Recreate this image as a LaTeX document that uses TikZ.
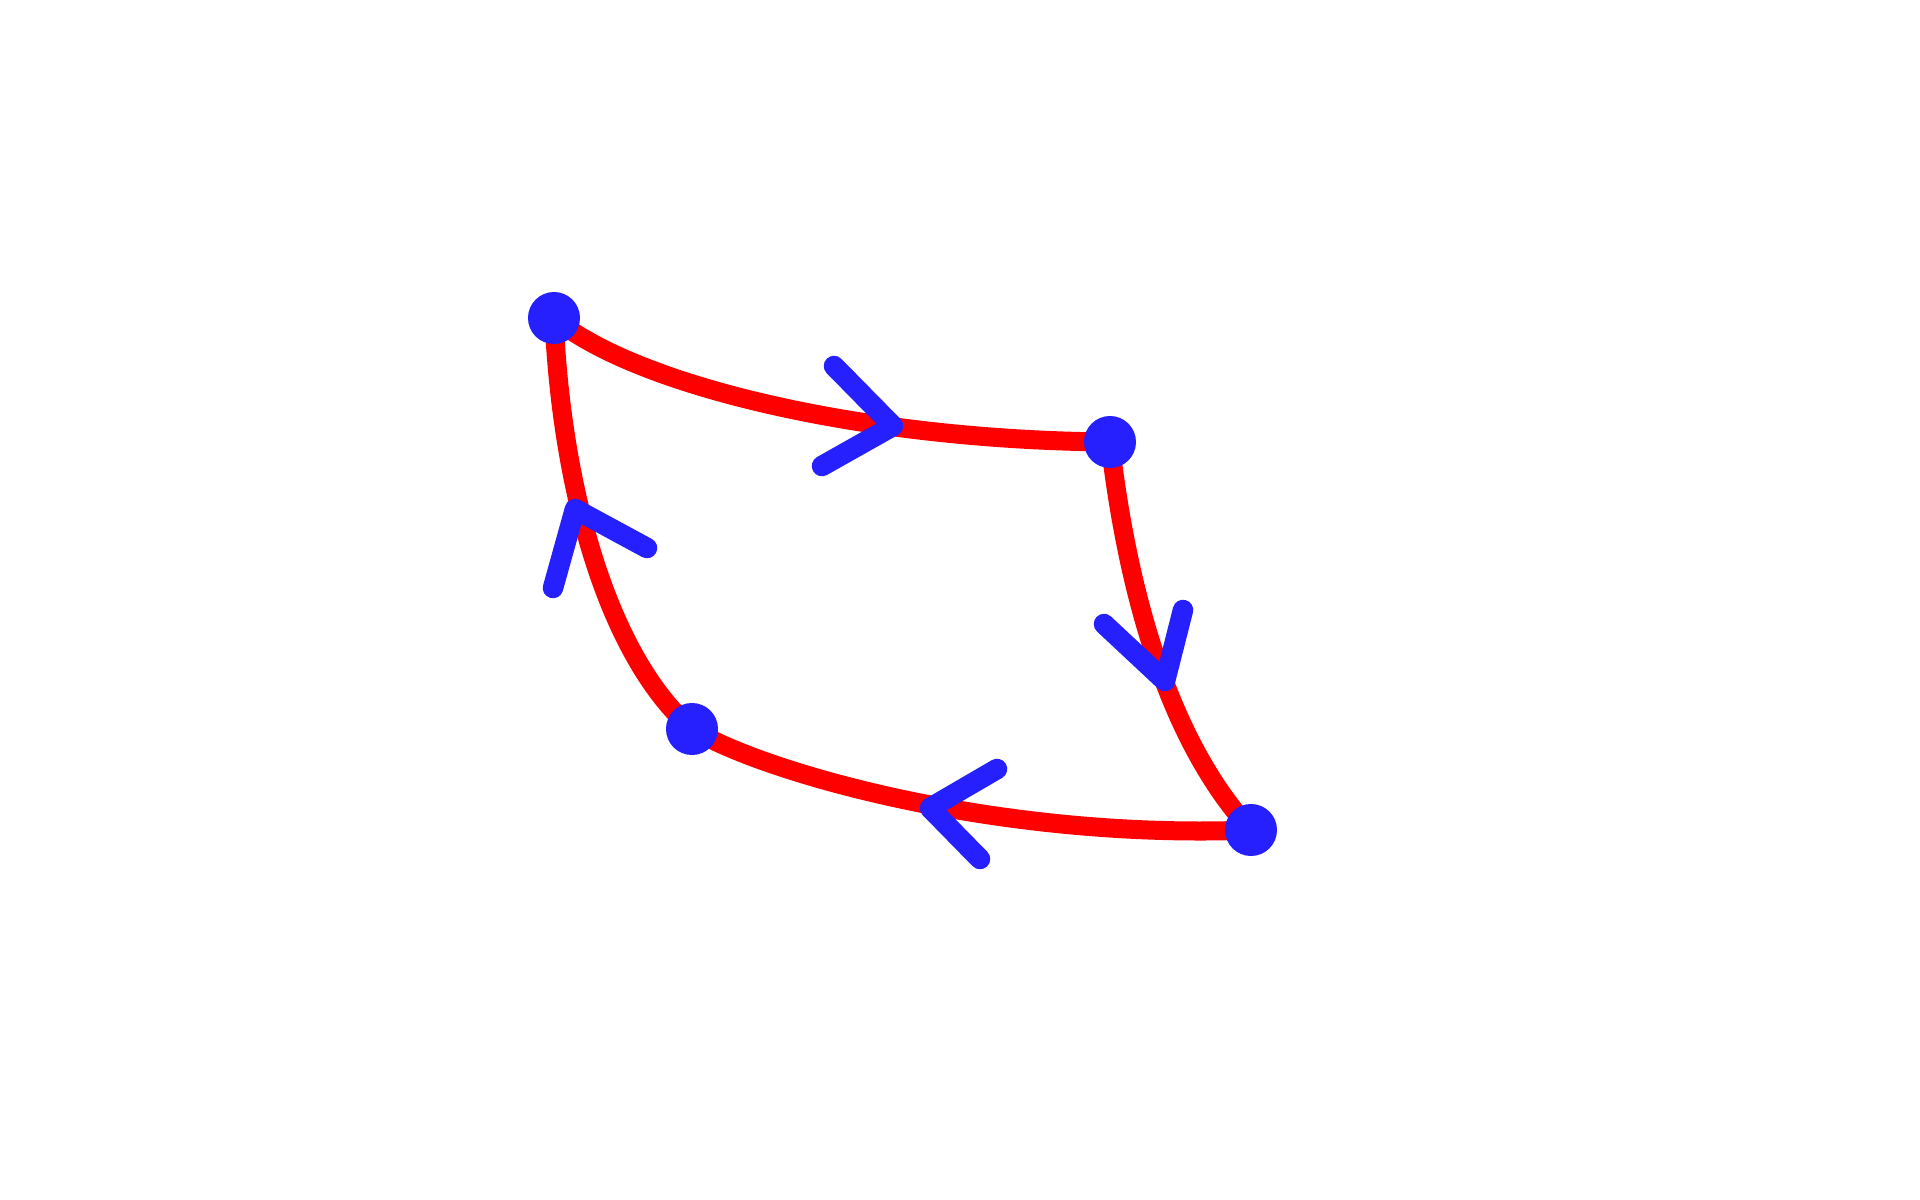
\documentclass[tikz,border=0pt]{standalone}
\definecolor{dotblue}{RGB}{38,32,255}
\definecolor{pathred}{RGB}{255,0,0}
\tikzset{
  edge/.style={draw=pathred, line width=0.19cm, line cap=round},
  chev/.style={draw=dotblue, line width=0.205cm, line cap=round, line join=round},
  dot/.style={circle, fill=dotblue, draw=none, inner sep=0pt, minimum size=0.52cm}
}
\begin{document}
\begin{tikzpicture}[x=0.01cm, y=-0.01cm]
\useasboundingbox (0,0) rectangle (1920,1200);
% corner positions
\coordinate (pA) at (554,318);
\coordinate (pB) at (1110,442);
\coordinate (pC) at (1251,830);
\coordinate (pD) at (692,729);
% red curves
\draw[edge] (pA) .. controls (635,385) and (860,440) .. (pB);
\draw[edge] (pB) .. controls (1130,614) and (1177,750) .. (pC);
\draw[edge] (pD) .. controls (764,773) and (1000,840) .. (pC);
\draw[edge] (pA) .. controls (562,500) and (612,660) .. (pD);
% chevrons
\coordinate (t1) at (893,426);
\coordinate (t2) at (1165,681);
\coordinate (t3) at (930,808);
\coordinate (t4) at (575,509);
\draw[chev] (834,366) -- (t1) -- (822,466);
\draw[chev] (1104,624) -- (t2) -- (1183,610);
\draw[chev] (997,769) -- (t3) -- (980,859);
\draw[chev] (647,548) -- (t4) -- (553,588);
% dots
\node[dot] (A) at (pA) {};
\node[dot] (B) at (pB) {};
\node[dot] (C) at (pC) {};
\node[dot] (D) at (pD) {};
\end{tikzpicture}
\end{document}
